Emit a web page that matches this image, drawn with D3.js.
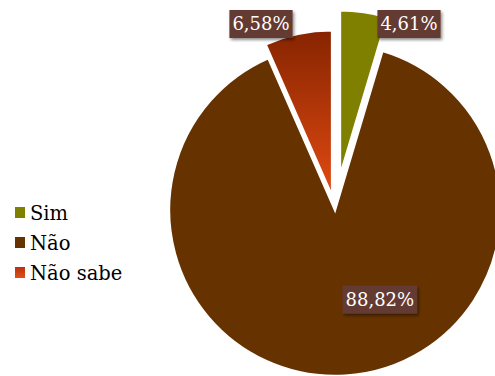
<!DOCTYPE html>
<html>
<head>
<meta charset="utf-8">
<script src="https://cdn.jsdelivr.net/npm/d3@7"></script>
<style>
  body { margin: 0; background: #fff; }
  svg { display: block; }
</style>
</head>
<body>
<div id="chart"></div>
<script>
const categories = ["Sim", "Não", "Não sabe"];
const values = [4.61, 88.82, 6.58];
const labels = ["4,61%", "88,82%", "6,58%"];
const explode = [34, 0, 14];

const width = 495;
const height = 376;
const cx = 335, cy = 210, r = 166;

const svg = d3.select("#chart").append("svg")
  .attr("width", width)
  .attr("height", height);

const defs = svg.append("defs");

const grad = defs.append("linearGradient")
  .attr("id", "redGrad")
  .attr("x1", 0).attr("y1", 0).attr("x2", 0).attr("y2", 1);
grad.append("stop").attr("offset", "0%").attr("stop-color", "#862400");
grad.append("stop").attr("offset", "100%").attr("stop-color", "#e24a12");

const legGrad = defs.append("linearGradient")
  .attr("id", "legGrad")
  .attr("x1", 0).attr("y1", 0).attr("x2", 0).attr("y2", 1);
legGrad.append("stop").attr("offset", "0%").attr("stop-color", "#b83210");
legGrad.append("stop").attr("offset", "100%").attr("stop-color", "#e05018");

defs.append("filter").attr("id", "shadow")
  .attr("x", "-20%").attr("y", "-30%").attr("width", "150%").attr("height", "180%")
  .append("feDropShadow")
  .attr("dx", 1.5).attr("dy", 2).attr("stdDeviation", 1.5)
  .attr("flood-color", "#000").attr("flood-opacity", 0.45);

const colors = d3.scaleOrdinal()
  .domain(categories)
  .range(["#808000", "#663300", "url(#redGrad)"]);
const legendColors = d3.scaleOrdinal()
  .domain(categories)
  .range(["#808000", "#663300", "url(#legGrad)"]);

const pie = d3.pie().sort(null).value(d => d.value);
const arcs = pie(categories.map((c, i) => ({ cat: c, value: values[i], label: labels[i], ex: explode[i] })));

const arc = d3.arc().innerRadius(0).outerRadius(r);

const g = svg.append("g").attr("transform", `translate(${cx},${cy})`);

function offset(d) {
  const a = (d.startAngle + d.endAngle) / 2;
  return [Math.sin(a) * d.data.ex, -Math.cos(a) * d.data.ex];
}

g.selectAll("path")
  .data(arcs)
  .join("path")
  .attr("d", arc)
  .attr("transform", d => `translate(${offset(d)})`)
  .attr("fill", d => colors(d.data.cat))
  .attr("stroke", "#fff")
  .attr("stroke-width", 2.5)
  .attr("stroke-linejoin", "miter");

// labels
function labelPos(d) {
  const a = (d.startAngle + d.endAngle) / 2;
  if (d.data.value > 50) return [r * 0.27, r * 0.54];
  const side = Math.sin(a) >= 0 ? 1 : -1;
  return [side * 74, -r - 20];
}

const lab = g.selectAll("g.lab")
  .data(arcs)
  .join("g")
  .attr("class", "lab")
  .attr("transform", d => `translate(${labelPos(d)})`);

lab.append("text")
  .attr("text-anchor", "middle")
  .attr("dy", "0.36em")
  .attr("font-family", "DejaVu Serif")
  .attr("font-size", 18)
  .attr("fill", "#fff")
  .text(d => d.data.label)
  .each(function() {
    const bb = this.getBBox();
    d3.select(this.parentNode).insert("rect", "text")
      .attr("x", bb.x - 3)
      .attr("y", -14)
      .attr("width", bb.width + 6)
      .attr("height", 28)
      .attr("fill", "#633b30")
      .attr("filter", "url(#shadow)");
  });

// legend
const legend = svg.append("g").attr("transform", "translate(15,207)");
const item = legend.selectAll("g")
  .data(categories)
  .join("g")
  .attr("transform", (d, i) => `translate(0,${i * 30})`);

item.append("rect")
  .attr("width", 10).attr("height", 11)
  .attr("fill", d => legendColors(d));

item.append("text")
  .attr("x", 15)
  .attr("y", 13)
  .attr("font-family", "DejaVu Serif")
  .attr("font-size", 19.5)
  .attr("fill", "#000")
  .text(d => d);
</script>
</body>
</html>
